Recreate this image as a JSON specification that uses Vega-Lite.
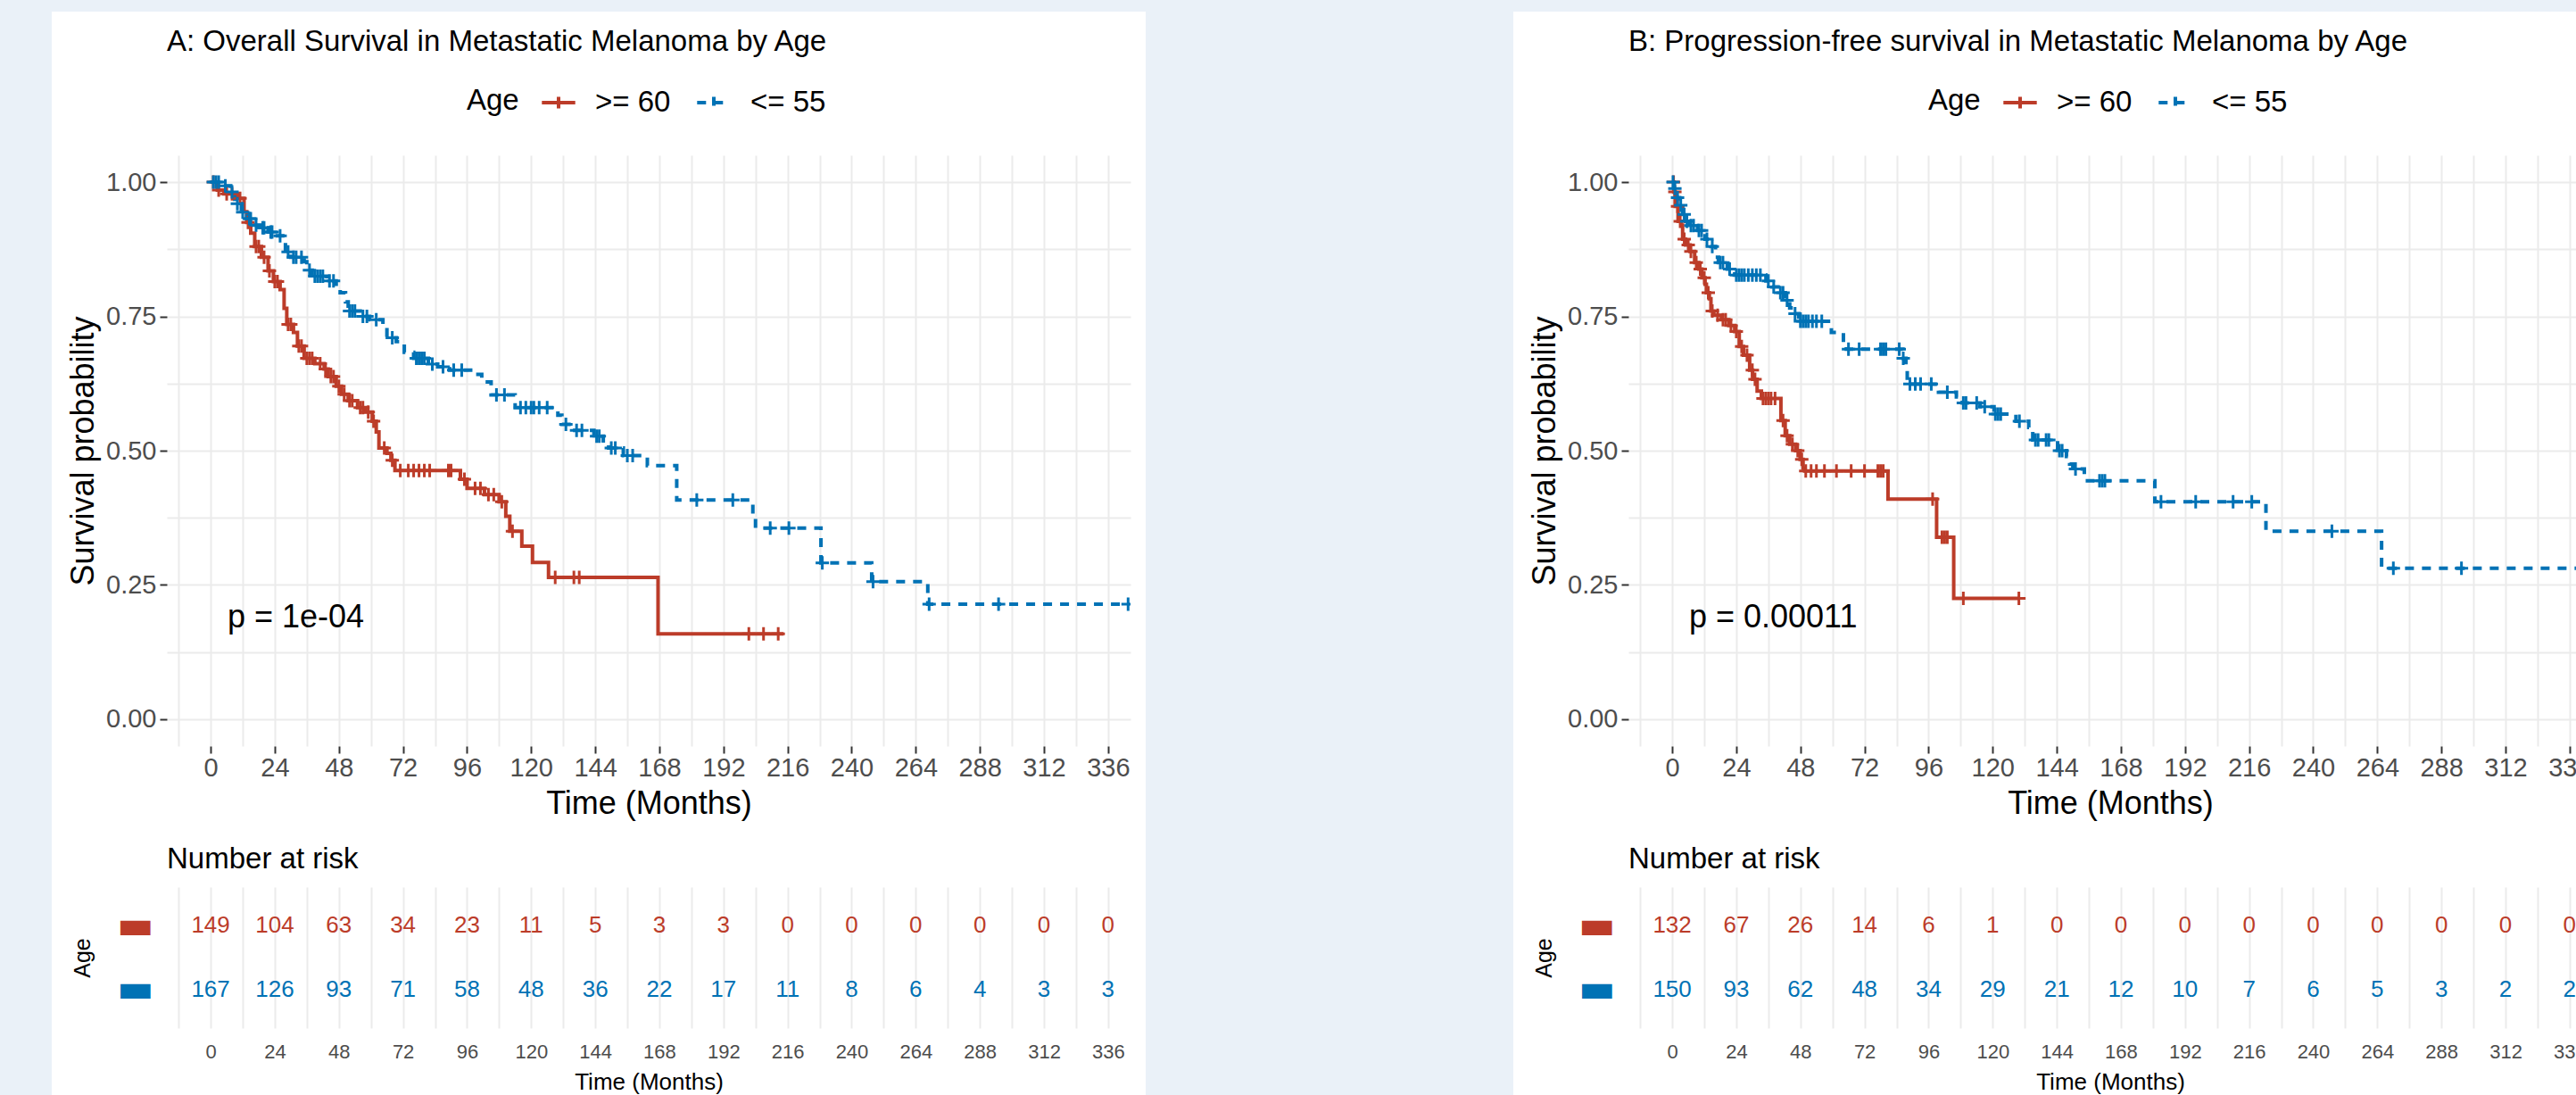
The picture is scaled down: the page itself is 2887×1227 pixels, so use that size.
{
  "$schema": "https://vega.github.io/schema/vega-lite/v6.json",
  "background": "white",
  "padding": 0,
  "config": {
    "font": "Liberation Sans",
    "view": {"stroke": null},
    "axis": {"domain": false, "gridColor": "#ebebeb", "gridWidth": 2, "labelColor": "#4d4d4d", "titleColor": "#000000", "titleFontWeight": "normal", "labelFont": "Liberation Sans", "titleFont": "Liberation Sans", "labelOverlap": false, "labelFlush": false},
    "title": {"anchor": "start", "frame": "group", "fontWeight": "normal", "color": "#000000", "font": "Liberation Sans"},
    "legend": {"labelFont": "Liberation Sans", "titleFont": "Liberation Sans", "titleFontWeight": "normal", "labelColor": "#000000", "titleColor": "#000000"}
  },
  "datasets": {
    "curvesA": [
      {"g":">= 60","t":0,"s":1},{"g":">= 60","t":2.5,"s":0.985},{"g":">= 60","t":5,"s":0.978},{"g":">= 60","t":10,"s":0.97},{"g":">= 60","t":12.5,"s":0.945},{"g":">= 60","t":13.5,"s":0.925},{"g":">= 60","t":15,"s":0.905},{"g":">= 60","t":16.5,"s":0.88},{"g":">= 60","t":19,"s":0.86},{"g":">= 60","t":21.5,"s":0.835},{"g":">= 60","t":23.5,"s":0.815},{"g":">= 60","t":26,"s":0.8},{"g":">= 60","t":27.5,"s":0.765},{"g":">= 60","t":28.5,"s":0.735},{"g":">= 60","t":31,"s":0.72},{"g":">= 60","t":32.5,"s":0.695},{"g":">= 60","t":35,"s":0.672},{"g":">= 60","t":39,"s":0.662},{"g":">= 60","t":42.5,"s":0.652},{"g":">= 60","t":44,"s":0.638},{"g":">= 60","t":47,"s":0.62},{"g":">= 60","t":49,"s":0.605},{"g":">= 60","t":51.5,"s":0.593},{"g":">= 60","t":55,"s":0.58},{"g":">= 60","t":58,"s":0.572},{"g":">= 60","t":60.5,"s":0.555},{"g":">= 60","t":62,"s":0.535},{"g":">= 60","t":63,"s":0.505},{"g":">= 60","t":66,"s":0.495},{"g":">= 60","t":67.5,"s":0.482},{"g":">= 60","t":69,"s":0.463},{"g":">= 60","t":93.5,"s":0.447},{"g":">= 60","t":96,"s":0.43},{"g":">= 60","t":102.5,"s":0.418},{"g":">= 60","t":108,"s":0.405},{"g":">= 60","t":110.5,"s":0.378},{"g":">= 60","t":112,"s":0.35},{"g":">= 60","t":116.5,"s":0.322},{"g":">= 60","t":120.5,"s":0.292},{"g":">= 60","t":126.5,"s":0.264},{"g":">= 60","t":167.5,"s":0.159},{"g":">= 60","t":214.5,"s":0.159},
      {"g":"<= 55","t":0,"s":1},{"g":"<= 55","t":4.5,"s":0.993},{"g":"<= 55","t":7.5,"s":0.982},{"g":"<= 55","t":9,"s":0.96},{"g":"<= 55","t":11.5,"s":0.944},{"g":"<= 55","t":13.5,"s":0.932},{"g":"<= 55","t":16,"s":0.92},{"g":"<= 55","t":18.5,"s":0.915},{"g":"<= 55","t":21.5,"s":0.907},{"g":"<= 55","t":25,"s":0.9},{"g":"<= 55","t":27,"s":0.888},{"g":"<= 55","t":28,"s":0.87},{"g":"<= 55","t":30,"s":0.86},{"g":"<= 55","t":35,"s":0.852},{"g":"<= 55","t":36,"s":0.836},{"g":"<= 55","t":38,"s":0.825},{"g":"<= 55","t":43.5,"s":0.816},{"g":"<= 55","t":47,"s":0.805},{"g":"<= 55","t":48.5,"s":0.794},{"g":"<= 55","t":50.5,"s":0.777},{"g":"<= 55","t":51.5,"s":0.76},{"g":"<= 55","t":56,"s":0.75},{"g":"<= 55","t":59.5,"s":0.744},{"g":"<= 55","t":64.5,"s":0.733},{"g":"<= 55","t":66,"s":0.71},{"g":"<= 55","t":69.5,"s":0.703},{"g":"<= 55","t":72.5,"s":0.683},{"g":"<= 55","t":76,"s":0.672},{"g":"<= 55","t":81.5,"s":0.661},{"g":"<= 55","t":85,"s":0.656},{"g":"<= 55","t":89.5,"s":0.65},{"g":"<= 55","t":98.5,"s":0.642},{"g":"<= 55","t":101.5,"s":0.628},{"g":"<= 55","t":105,"s":0.604},{"g":"<= 55","t":114,"s":0.58},{"g":"<= 55","t":130,"s":0.566},{"g":"<= 55","t":131.5,"s":0.549},{"g":"<= 55","t":135,"s":0.538},{"g":"<= 55","t":143.5,"s":0.527},{"g":"<= 55","t":147,"s":0.513},{"g":"<= 55","t":149,"s":0.505},{"g":"<= 55","t":154.5,"s":0.491},{"g":"<= 55","t":163.5,"s":0.472},{"g":"<= 55","t":174.5,"s":0.408},{"g":"<= 55","t":203,"s":0.378},{"g":"<= 55","t":204,"s":0.356},{"g":"<= 55","t":228.5,"s":0.291},{"g":"<= 55","t":247.5,"s":0.256},{"g":"<= 55","t":268.5,"s":0.214},{"g":"<= 55","t":344,"s":0.214}
    ],
    "censA": [
      {"g":">= 60","t":1,"s":1},{"g":">= 60","t":3,"s":0.985},{"g":">= 60","t":6,"s":0.978},{"g":">= 60","t":8,"s":0.978},{"g":">= 60","t":11,"s":0.97},{"g":">= 60","t":14,"s":0.925},{"g":">= 60","t":17,"s":0.88},{"g":">= 60","t":18,"s":0.88},{"g":">= 60","t":20,"s":0.86},{"g":">= 60","t":22,"s":0.835},{"g":">= 60","t":24,"s":0.815},{"g":">= 60","t":25,"s":0.815},{"g":">= 60","t":29,"s":0.735},{"g":">= 60","t":30,"s":0.735},{"g":">= 60","t":33,"s":0.695},{"g":">= 60","t":34,"s":0.695},{"g":">= 60","t":36,"s":0.672},{"g":">= 60","t":37,"s":0.672},{"g":">= 60","t":38,"s":0.672},{"g":">= 60","t":41,"s":0.662},{"g":">= 60","t":43,"s":0.652},{"g":">= 60","t":45,"s":0.638},{"g":">= 60","t":46,"s":0.638},{"g":">= 60","t":48,"s":0.62},{"g":">= 60","t":50,"s":0.605},{"g":">= 60","t":52,"s":0.593},{"g":">= 60","t":53,"s":0.593},{"g":">= 60","t":56,"s":0.58},{"g":">= 60","t":57,"s":0.58},{"g":">= 60","t":59,"s":0.572},{"g":">= 60","t":61,"s":0.555},{"g":">= 60","t":65,"s":0.505},{"g":">= 60","t":68,"s":0.482},{"g":">= 60","t":71,"s":0.463},{"g":">= 60","t":74,"s":0.463},{"g":">= 60","t":76,"s":0.463},{"g":">= 60","t":78,"s":0.463},{"g":">= 60","t":80,"s":0.463},{"g":">= 60","t":82,"s":0.463},{"g":">= 60","t":89,"s":0.463},{"g":">= 60","t":90,"s":0.463},{"g":">= 60","t":95,"s":0.447},{"g":">= 60","t":99,"s":0.43},{"g":">= 60","t":101,"s":0.43},{"g":">= 60","t":104,"s":0.418},{"g":">= 60","t":106,"s":0.418},{"g":">= 60","t":109,"s":0.405},{"g":">= 60","t":113,"s":0.35},{"g":">= 60","t":129,"s":0.264},{"g":">= 60","t":136,"s":0.264},{"g":">= 60","t":138,"s":0.264},{"g":">= 60","t":201.5,"s":0.159},{"g":">= 60","t":207,"s":0.159},{"g":">= 60","t":212.5,"s":0.159},
      {"g":"<= 55","t":1,"s":1},{"g":"<= 55","t":2,"s":1},{"g":"<= 55","t":3,"s":1},{"g":"<= 55","t":5.5,"s":0.993},{"g":"<= 55","t":8,"s":0.982},{"g":"<= 55","t":10,"s":0.96},{"g":"<= 55","t":12,"s":0.944},{"g":"<= 55","t":14.5,"s":0.932},{"g":"<= 55","t":15,"s":0.932},{"g":"<= 55","t":17,"s":0.92},{"g":"<= 55","t":19.5,"s":0.915},{"g":"<= 55","t":20,"s":0.915},{"g":"<= 55","t":22.5,"s":0.907},{"g":"<= 55","t":23,"s":0.907},{"g":"<= 55","t":26,"s":0.9},{"g":"<= 55","t":29,"s":0.87},{"g":"<= 55","t":31,"s":0.86},{"g":"<= 55","t":32,"s":0.86},{"g":"<= 55","t":34,"s":0.86},{"g":"<= 55","t":37,"s":0.836},{"g":"<= 55","t":39,"s":0.825},{"g":"<= 55","t":40,"s":0.825},{"g":"<= 55","t":41,"s":0.825},{"g":"<= 55","t":42,"s":0.825},{"g":"<= 55","t":44.5,"s":0.816},{"g":"<= 55","t":46,"s":0.816},{"g":"<= 55","t":52,"s":0.76},{"g":"<= 55","t":53,"s":0.76},{"g":"<= 55","t":54,"s":0.76},{"g":"<= 55","t":57,"s":0.75},{"g":"<= 55","t":58.5,"s":0.75},{"g":"<= 55","t":62,"s":0.744},{"g":"<= 55","t":68,"s":0.71},{"g":"<= 55","t":77,"s":0.672},{"g":"<= 55","t":78,"s":0.672},{"g":"<= 55","t":79,"s":0.672},{"g":"<= 55","t":80,"s":0.672},{"g":"<= 55","t":83,"s":0.661},{"g":"<= 55","t":87,"s":0.656},{"g":"<= 55","t":91,"s":0.65},{"g":"<= 55","t":94,"s":0.65},{"g":"<= 55","t":107,"s":0.604},{"g":"<= 55","t":110,"s":0.604},{"g":"<= 55","t":116,"s":0.58},{"g":"<= 55","t":118,"s":0.58},{"g":"<= 55","t":120,"s":0.58},{"g":"<= 55","t":121,"s":0.58},{"g":"<= 55","t":123,"s":0.58},{"g":"<= 55","t":126,"s":0.58},{"g":"<= 55","t":133,"s":0.549},{"g":"<= 55","t":137,"s":0.538},{"g":"<= 55","t":139,"s":0.538},{"g":"<= 55","t":144.5,"s":0.527},{"g":"<= 55","t":145.5,"s":0.527},{"g":"<= 55","t":150,"s":0.505},{"g":"<= 55","t":151.5,"s":0.505},{"g":"<= 55","t":156,"s":0.491},{"g":"<= 55","t":158,"s":0.491},{"g":"<= 55","t":182,"s":0.408},{"g":"<= 55","t":195.5,"s":0.408},{"g":"<= 55","t":209.5,"s":0.356},{"g":"<= 55","t":216.5,"s":0.356},{"g":"<= 55","t":229,"s":0.291},{"g":"<= 55","t":248,"s":0.256},{"g":"<= 55","t":269,"s":0.214},{"g":"<= 55","t":295,"s":0.214},{"g":"<= 55","t":343.5,"s":0.214}
    ],
    "riskA": [
      {"g":">= 60","t":0,"n":149},{"g":">= 60","t":24,"n":104},{"g":">= 60","t":48,"n":63},{"g":">= 60","t":72,"n":34},{"g":">= 60","t":96,"n":23},{"g":">= 60","t":120,"n":11},{"g":">= 60","t":144,"n":5},{"g":">= 60","t":168,"n":3},{"g":">= 60","t":192,"n":3},{"g":">= 60","t":216,"n":0},{"g":">= 60","t":240,"n":0},{"g":">= 60","t":264,"n":0},{"g":">= 60","t":288,"n":0},{"g":">= 60","t":312,"n":0},{"g":">= 60","t":336,"n":0},
      {"g":"<= 55","t":0,"n":167},{"g":"<= 55","t":24,"n":126},{"g":"<= 55","t":48,"n":93},{"g":"<= 55","t":72,"n":71},{"g":"<= 55","t":96,"n":58},{"g":"<= 55","t":120,"n":48},{"g":"<= 55","t":144,"n":36},{"g":"<= 55","t":168,"n":22},{"g":"<= 55","t":192,"n":17},{"g":"<= 55","t":216,"n":11},{"g":"<= 55","t":240,"n":8},{"g":"<= 55","t":264,"n":6},{"g":"<= 55","t":288,"n":4},{"g":"<= 55","t":312,"n":3},{"g":"<= 55","t":336,"n":3}
    ],
    "curvesB": [
      {"g":">= 60","t":0,"s":1},{"g":">= 60","t":0.6,"s":0.982},{"g":">= 60","t":1.1,"s":0.955},{"g":">= 60","t":2.2,"s":0.927},{"g":">= 60","t":3.3,"s":0.92},{"g":">= 60","t":3.9,"s":0.894},{"g":">= 60","t":5,"s":0.883},{"g":">= 60","t":6.7,"s":0.871},{"g":">= 60","t":8.4,"s":0.85},{"g":">= 60","t":10,"s":0.838},{"g":">= 60","t":11.1,"s":0.822},{"g":">= 60","t":12.3,"s":0.81},{"g":">= 60","t":12.8,"s":0.794},{"g":">= 60","t":13.9,"s":0.783},{"g":">= 60","t":14.5,"s":0.76},{"g":">= 60","t":15.6,"s":0.752},{"g":">= 60","t":18.4,"s":0.744},{"g":">= 60","t":21.2,"s":0.733},{"g":">= 60","t":23.4,"s":0.722},{"g":">= 60","t":25.1,"s":0.694},{"g":">= 60","t":26.7,"s":0.678},{"g":">= 60","t":29,"s":0.65},{"g":">= 60","t":30.1,"s":0.633},{"g":">= 60","t":31.8,"s":0.611},{"g":">= 60","t":33.4,"s":0.597},{"g":">= 60","t":40.7,"s":0.556},{"g":">= 60","t":42.3,"s":0.528},{"g":">= 60","t":44,"s":0.512},{"g":">= 60","t":46.2,"s":0.5},{"g":">= 60","t":47.9,"s":0.484},{"g":">= 60","t":49,"s":0.467},{"g":">= 60","t":49.6,"s":0.462},{"g":">= 60","t":80.8,"s":0.41},{"g":">= 60","t":99,"s":0.339},{"g":">= 60","t":105.4,"s":0.225},{"g":">= 60","t":129.8,"s":0.225},
      {"g":"<= 55","t":0,"s":1},{"g":"<= 55","t":0.6,"s":0.988},{"g":"<= 55","t":1.7,"s":0.971},{"g":"<= 55","t":2.8,"s":0.957},{"g":"<= 55","t":3.9,"s":0.94},{"g":"<= 55","t":5,"s":0.927},{"g":"<= 55","t":6.1,"s":0.919},{"g":"<= 55","t":9.5,"s":0.91},{"g":"<= 55","t":12.3,"s":0.894},{"g":"<= 55","t":14.5,"s":0.88},{"g":"<= 55","t":16.2,"s":0.86},{"g":"<= 55","t":17.3,"s":0.85},{"g":"<= 55","t":20.6,"s":0.838},{"g":"<= 55","t":23.4,"s":0.827},{"g":"<= 55","t":35.1,"s":0.816},{"g":"<= 55","t":37.3,"s":0.805},{"g":"<= 55","t":39.6,"s":0.794},{"g":"<= 55","t":42.3,"s":0.78},{"g":"<= 55","t":44,"s":0.766},{"g":"<= 55","t":45.7,"s":0.755},{"g":"<= 55","t":47.4,"s":0.741},{"g":"<= 55","t":59.6,"s":0.72},{"g":"<= 55","t":64.1,"s":0.7},{"g":"<= 55","t":65.2,"s":0.689},{"g":"<= 55","t":86.4,"s":0.672},{"g":"<= 55","t":87.5,"s":0.65},{"g":"<= 55","t":88,"s":0.624},{"g":"<= 55","t":99.7,"s":0.609},{"g":"<= 55","t":106.4,"s":0.6},{"g":"<= 55","t":108.6,"s":0.589},{"g":"<= 55","t":115.3,"s":0.582},{"g":"<= 55","t":120.5,"s":0.568},{"g":"<= 55","t":128.7,"s":0.555},{"g":"<= 55","t":133.5,"s":0.543},{"g":"<= 55","t":135,"s":0.52},{"g":"<= 55","t":144.3,"s":0.5},{"g":"<= 55","t":147.6,"s":0.489},{"g":"<= 55","t":148.8,"s":0.475},{"g":"<= 55","t":150,"s":0.466},{"g":"<= 55","t":154.3,"s":0.444},{"g":"<= 55","t":180.7,"s":0.405},{"g":"<= 55","t":222.3,"s":0.35},{"g":"<= 55","t":265.6,"s":0.281},{"g":"<= 55","t":339.5,"s":0.14},{"g":"<= 55","t":346,"s":0.14}
    ],
    "censB": [
      {"g":">= 60","t":0.5,"s":1},{"g":">= 60","t":1,"s":0.982},{"g":">= 60","t":2,"s":0.955},{"g":">= 60","t":3,"s":0.927},{"g":">= 60","t":4.5,"s":0.894},{"g":">= 60","t":6,"s":0.883},{"g":">= 60","t":7,"s":0.871},{"g":">= 60","t":9,"s":0.85},{"g":">= 60","t":10.5,"s":0.838},{"g":">= 60","t":12,"s":0.822},{"g":">= 60","t":13.5,"s":0.794},{"g":">= 60","t":15,"s":0.76},{"g":">= 60","t":17,"s":0.752},{"g":">= 60","t":19,"s":0.744},{"g":">= 60","t":20,"s":0.744},{"g":">= 60","t":22,"s":0.733},{"g":">= 60","t":24,"s":0.722},{"g":">= 60","t":26,"s":0.694},{"g":">= 60","t":28,"s":0.678},{"g":">= 60","t":30,"s":0.65},{"g":">= 60","t":31,"s":0.633},{"g":">= 60","t":34,"s":0.597},{"g":">= 60","t":35,"s":0.597},{"g":">= 60","t":36,"s":0.597},{"g":">= 60","t":37,"s":0.597},{"g":">= 60","t":38.5,"s":0.597},{"g":">= 60","t":41.5,"s":0.556},{"g":">= 60","t":43,"s":0.528},{"g":">= 60","t":45,"s":0.512},{"g":">= 60","t":47,"s":0.5},{"g":">= 60","t":48.5,"s":0.484},{"g":">= 60","t":50,"s":0.462},{"g":">= 60","t":52,"s":0.462},{"g":">= 60","t":54,"s":0.462},{"g":">= 60","t":57,"s":0.462},{"g":">= 60","t":61.5,"s":0.462},{"g":">= 60","t":67,"s":0.462},{"g":">= 60","t":72,"s":0.462},{"g":">= 60","t":77,"s":0.462},{"g":">= 60","t":78,"s":0.462},{"g":">= 60","t":79,"s":0.462},{"g":">= 60","t":97.5,"s":0.41},{"g":">= 60","t":101,"s":0.339},{"g":">= 60","t":102,"s":0.339},{"g":">= 60","t":103,"s":0.339},{"g":">= 60","t":109,"s":0.225},{"g":">= 60","t":129.8,"s":0.225},
      {"g":"<= 55","t":0.3,"s":1},{"g":"<= 55","t":1,"s":0.988},{"g":"<= 55","t":2,"s":0.971},{"g":"<= 55","t":3.2,"s":0.957},{"g":"<= 55","t":4.5,"s":0.94},{"g":"<= 55","t":5.5,"s":0.927},{"g":"<= 55","t":7,"s":0.919},{"g":"<= 55","t":8,"s":0.919},{"g":"<= 55","t":10,"s":0.91},{"g":"<= 55","t":11,"s":0.91},{"g":"<= 55","t":13,"s":0.894},{"g":"<= 55","t":15,"s":0.88},{"g":"<= 55","t":18,"s":0.85},{"g":"<= 55","t":19,"s":0.85},{"g":"<= 55","t":21.5,"s":0.838},{"g":"<= 55","t":24,"s":0.827},{"g":"<= 55","t":25,"s":0.827},{"g":"<= 55","t":26,"s":0.827},{"g":"<= 55","t":27,"s":0.827},{"g":"<= 55","t":28.5,"s":0.827},{"g":"<= 55","t":30,"s":0.827},{"g":"<= 55","t":31.5,"s":0.827},{"g":"<= 55","t":33,"s":0.827},{"g":"<= 55","t":36,"s":0.816},{"g":"<= 55","t":38,"s":0.805},{"g":"<= 55","t":40.5,"s":0.794},{"g":"<= 55","t":41.5,"s":0.794},{"g":"<= 55","t":43,"s":0.78},{"g":"<= 55","t":46,"s":0.755},{"g":"<= 55","t":48,"s":0.741},{"g":"<= 55","t":49,"s":0.741},{"g":"<= 55","t":50,"s":0.741},{"g":"<= 55","t":51,"s":0.741},{"g":"<= 55","t":52.5,"s":0.741},{"g":"<= 55","t":54,"s":0.741},{"g":"<= 55","t":56,"s":0.741},{"g":"<= 55","t":66,"s":0.689},{"g":"<= 55","t":70,"s":0.689},{"g":"<= 55","t":78,"s":0.689},{"g":"<= 55","t":79,"s":0.689},{"g":"<= 55","t":80,"s":0.689},{"g":"<= 55","t":85,"s":0.689},{"g":"<= 55","t":86.5,"s":0.672},{"g":"<= 55","t":89,"s":0.624},{"g":"<= 55","t":91,"s":0.624},{"g":"<= 55","t":93,"s":0.624},{"g":"<= 55","t":97,"s":0.624},{"g":"<= 55","t":103,"s":0.609},{"g":"<= 55","t":109,"s":0.589},{"g":"<= 55","t":110,"s":0.589},{"g":"<= 55","t":114,"s":0.589},{"g":"<= 55","t":117,"s":0.582},{"g":"<= 55","t":121,"s":0.568},{"g":"<= 55","t":122,"s":0.568},{"g":"<= 55","t":123,"s":0.568},{"g":"<= 55","t":130,"s":0.555},{"g":"<= 55","t":136,"s":0.52},{"g":"<= 55","t":137,"s":0.52},{"g":"<= 55","t":140,"s":0.52},{"g":"<= 55","t":141,"s":0.52},{"g":"<= 55","t":145,"s":0.5},{"g":"<= 55","t":146,"s":0.5},{"g":"<= 55","t":151,"s":0.466},{"g":"<= 55","t":160,"s":0.444},{"g":"<= 55","t":161,"s":0.444},{"g":"<= 55","t":162,"s":0.444},{"g":"<= 55","t":183,"s":0.405},{"g":"<= 55","t":196,"s":0.405},{"g":"<= 55","t":210,"s":0.405},{"g":"<= 55","t":217,"s":0.405},{"g":"<= 55","t":247,"s":0.35},{"g":"<= 55","t":270,"s":0.281},{"g":"<= 55","t":295.5,"s":0.281}
    ],
    "riskB": [
      {"g":">= 60","t":0,"n":132},{"g":">= 60","t":24,"n":67},{"g":">= 60","t":48,"n":26},{"g":">= 60","t":72,"n":14},{"g":">= 60","t":96,"n":6},{"g":">= 60","t":120,"n":1},{"g":">= 60","t":144,"n":0},{"g":">= 60","t":168,"n":0},{"g":">= 60","t":192,"n":0},{"g":">= 60","t":216,"n":0},{"g":">= 60","t":240,"n":0},{"g":">= 60","t":264,"n":0},{"g":">= 60","t":288,"n":0},{"g":">= 60","t":312,"n":0},{"g":">= 60","t":336,"n":0},
      {"g":"<= 55","t":0,"n":150},{"g":"<= 55","t":24,"n":93},{"g":"<= 55","t":48,"n":62},{"g":"<= 55","t":72,"n":48},{"g":"<= 55","t":96,"n":34},{"g":"<= 55","t":120,"n":29},{"g":"<= 55","t":144,"n":21},{"g":"<= 55","t":168,"n":12},{"g":"<= 55","t":192,"n":10},{"g":"<= 55","t":216,"n":7},{"g":"<= 55","t":240,"n":6},{"g":"<= 55","t":264,"n":5},{"g":"<= 55","t":288,"n":3},{"g":"<= 55","t":312,"n":2},{"g":"<= 55","t":336,"n":2}
    ]
  },
  "spacing": 0,
  "resolve": {"scale": {"color": "independent", "strokeDash": "independent"}, "legend": {"color": "independent", "strokeDash": "independent"}},
  "vconcat": [
    {"width": 2887, "height": 13, "data": {"values": []}, "mark": "rect", "view": {"fill": "#eaf1f8", "stroke": null}},
    {
      "spacing": 17,
      "resolve": {"scale": {"color": "independent", "strokeDash": "independent"}, "legend": {"color": "independent", "strokeDash": "independent"}},
      "hconcat": [
        {"width": 58, "height": 1214, "data": {"values": []}, "mark": "rect", "view": {"fill": "#eaf1f8", "stroke": null}},
        {
          "spacing": 0,
          "resolve": {"scale": {"color": "independent", "strokeDash": "independent"}, "legend": {"color": "independent", "strokeDash": "independent"}},
          "vconcat": [
            {"width": 1080, "height": 18, "data": {"values": []}, "mark": "rect"},
            {
              "spacing": 29,
              "resolve": {"scale": {"color": "independent", "strokeDash": "independent"}, "legend": {"color": "independent", "strokeDash": "independent"}},
              "vconcat": [
                {
                  "width": 1080, "height": 662,
                  "title": {"text": "A: Overall Survival in Metastatic Melanoma by Age", "fontSize": 33, "offset": 30},
                  "encoding": {
                    "x": {"field": "t", "type": "quantitative", "scale": {"domain": [-16.4, 344.4], "nice": false, "zero": false},
                      "axis": {"values": [-12,0,12,24,36,48,60,72,84,96,108,120,132,144,156,168,180,192,204,216,228,240,252,264,276,288,300,312,324,336],
                        "labelExpr": "datum.value % 24 == 0 ? datum.label : ''",
                        "tickColor": {"condition": {"test": "datum.value % 24 == 0", "value": "#333333"}, "value": "transparent"},
                        "tickSize": 8, "tickWidth": 2, "labelFontSize": 29, "labelPadding": 2, "title": "Time (Months)", "titleFontSize": 36, "titlePadding": 8}},
                    "y": {"field": "s", "type": "quantitative", "scale": {"domain": [-0.05, 1.05], "nice": false, "zero": false},
                      "axis": {"values": [0,0.125,0.25,0.375,0.5,0.625,0.75,0.875,1],
                        "labelExpr": "datum.value % 0.25 == 0 ? format(datum.value, '.2f') : ''",
                        "tickColor": {"condition": {"test": "datum.value % 0.25 == 0", "value": "#333333"}, "value": "transparent"},
                        "tickSize": 8, "tickWidth": 2, "labelFontSize": 29, "labelPadding": 4, "title": "Survival probability", "titleFontSize": 36, "titlePadding": 6}}
                  },
                  "layer": [
                    {
                      "data": {"name": "curvesA"},
                      "mark": {"type": "line", "interpolate": "step-after", "strokeWidth": 4, "clip": true},
                      "encoding": {
                        "color": {"field": "g", "type": "nominal", "scale": {"domain": [">= 60", "<= 55"], "range": ["#BC3C29", "#0072B5"]},
                          "legend": {"orient": "none", "legendX": 336, "legendY": -80, "direction": "horizontal", "titleOrient": "left", "title": "Age", "titleFontSize": 33, "labelFontSize": 33, "symbolType": "M-1,0H1M0,-0.35V0.35", "symbolSize": 1400, "symbolStrokeWidth": 4, "symbolFillColor": "transparent", "columnPadding": 21, "labelOffset": 20, "titlePadding": 23}},
                        "strokeDash": {"field": "g", "type": "nominal", "scale": {"domain": [">= 60", "<= 55"], "range": [[1, 0], [10, 9]]},
                          "legend": {"orient": "none", "legendX": 336, "legendY": -80, "direction": "horizontal", "titleOrient": "left", "title": "Age", "titleFontSize": 33, "labelFontSize": 33, "symbolType": "M-1,0H1M0,-0.35V0.35", "symbolSize": 1400, "symbolStrokeWidth": 4, "symbolFillColor": "transparent", "columnPadding": 21, "labelOffset": 20, "titlePadding": 23}}
                      }
                    },
                    {
                      "data": {"name": "censA"},
                      "mark": {"type": "point", "shape": "M-1,0H1M0,-1V1", "filled": false, "size": 225, "strokeWidth": 3, "opacity": 1, "clip": true},
                      "encoding": {
                        "color": {"field": "g", "type": "nominal",
                          "legend": {"orient": "none", "legendX": 336, "legendY": -80, "direction": "horizontal", "titleOrient": "left", "title": "Age", "titleFontSize": 33, "labelFontSize": 33, "symbolType": "M-1,0H1M0,-0.35V0.35", "symbolSize": 1400, "symbolStrokeWidth": 4, "symbolFillColor": "transparent", "columnPadding": 21, "labelOffset": 20, "titlePadding": 23}}
                      }
                    },
                    {
                      "data": {"values": [{"t": 6.3, "s": 0.19, "label": "p = 1e-04"}]},
                      "mark": {"type": "text", "align": "left", "baseline": "middle", "fontSize": 36, "color": "#000000"},
                      "encoding": {"text": {"field": "label"}}
                    }
                  ]
                },
                {
                  "width": 1080, "height": 158,
                  "title": {"text": "Number at risk", "fontSize": 33, "offset": 14},
                  "data": {"name": "riskA"},
                  "mark": {"type": "text", "fontSize": 26, "baseline": "middle"},
                  "encoding": {
                    "x": {"field": "t", "type": "quantitative", "scale": {"domain": [-16.4, 344.4], "nice": false, "zero": false},
                      "axis": {"values": [-12,0,12,24,36,48,60,72,84,96,108,120,132,144,156,168,180,192,204,216,228,240,252,264,276,288,300,312,324,336],
                        "labelExpr": "datum.value % 24 == 0 ? datum.label : ''",
                        "ticks": false, "labelFontSize": 22, "labelPadding": 16, "title": "Time (Months)", "titleFontSize": 26, "titlePadding": 10}},
                    "y": {"field": "g", "type": "nominal", "scale": {"domain": [">= 60", "<= 55"], "padding": 0.6},
                      "axis": {"labelExpr": "'▬'", "labelFont": "DejaVu Sans", "labelFontSize": 44,
                        "labelColor": {"condition": {"test": "datum.value == '>= 60'", "value": "#BC3C29"}, "value": "#0072B5"},
                        "ticks": false, "labelPadding": 15, "title": "Age", "titleFontSize": 25, "titlePadding": 25}},
                    "text": {"field": "n", "type": "quantitative"},
                    "color": {"field": "g", "type": "nominal", "scale": {"domain": [">= 60", "<= 55"], "range": ["#BC3C29", "#0072B5"]}, "legend": null}
                  }
                }
              ]
            }
          ]
        },
        {"width": 412, "height": 1214, "data": {"values": []}, "mark": "rect", "view": {"fill": "#eaf1f8", "stroke": null}},
        {
          "spacing": 0,
          "resolve": {"scale": {"color": "independent", "strokeDash": "independent"}, "legend": {"color": "independent", "strokeDash": "independent"}},
          "vconcat": [
            {"width": 1080, "height": 18, "data": {"values": []}, "mark": "rect"},
            {
              "spacing": 29,
              "resolve": {"scale": {"color": "independent", "strokeDash": "independent"}, "legend": {"color": "independent", "strokeDash": "independent"}},
              "vconcat": [
                {
                  "width": 1080, "height": 662,
                  "title": {"text": "B: Progression-free survival in Metastatic Melanoma by Age", "fontSize": 33, "offset": 30},
                  "encoding": {
                    "x": {"field": "t", "type": "quantitative", "scale": {"domain": [-16.4, 344.4], "nice": false, "zero": false},
                      "axis": {"values": [-12,0,12,24,36,48,60,72,84,96,108,120,132,144,156,168,180,192,204,216,228,240,252,264,276,288,300,312,324,336],
                        "labelExpr": "datum.value % 24 == 0 ? datum.label : ''",
                        "tickColor": {"condition": {"test": "datum.value % 24 == 0", "value": "#333333"}, "value": "transparent"},
                        "tickSize": 8, "tickWidth": 2, "labelFontSize": 29, "labelPadding": 2, "title": "Time (Months)", "titleFontSize": 36, "titlePadding": 8}},
                    "y": {"field": "s", "type": "quantitative", "scale": {"domain": [-0.05, 1.05], "nice": false, "zero": false},
                      "axis": {"values": [0,0.125,0.25,0.375,0.5,0.625,0.75,0.875,1],
                        "labelExpr": "datum.value % 0.25 == 0 ? format(datum.value, '.2f') : ''",
                        "tickColor": {"condition": {"test": "datum.value % 0.25 == 0", "value": "#333333"}, "value": "transparent"},
                        "tickSize": 8, "tickWidth": 2, "labelFontSize": 29, "labelPadding": 4, "title": "Survival probability", "titleFontSize": 36, "titlePadding": 6}}
                  },
                  "layer": [
                    {
                      "data": {"name": "curvesB"},
                      "mark": {"type": "line", "interpolate": "step-after", "strokeWidth": 4, "clip": true},
                      "encoding": {
                        "color": {"field": "g", "type": "nominal", "scale": {"domain": [">= 60", "<= 55"], "range": ["#BC3C29", "#0072B5"]},
                          "legend": {"orient": "none", "legendX": 336, "legendY": -80, "direction": "horizontal", "titleOrient": "left", "title": "Age", "titleFontSize": 33, "labelFontSize": 33, "symbolType": "M-1,0H1M0,-0.35V0.35", "symbolSize": 1400, "symbolStrokeWidth": 4, "symbolFillColor": "transparent", "columnPadding": 21, "labelOffset": 20, "titlePadding": 23}},
                        "strokeDash": {"field": "g", "type": "nominal", "scale": {"domain": [">= 60", "<= 55"], "range": [[1, 0], [10, 9]]},
                          "legend": {"orient": "none", "legendX": 336, "legendY": -80, "direction": "horizontal", "titleOrient": "left", "title": "Age", "titleFontSize": 33, "labelFontSize": 33, "symbolType": "M-1,0H1M0,-0.35V0.35", "symbolSize": 1400, "symbolStrokeWidth": 4, "symbolFillColor": "transparent", "columnPadding": 21, "labelOffset": 20, "titlePadding": 23}}
                      }
                    },
                    {
                      "data": {"name": "censB"},
                      "mark": {"type": "point", "shape": "M-1,0H1M0,-1V1", "filled": false, "size": 225, "strokeWidth": 3, "opacity": 1, "clip": true},
                      "encoding": {
                        "color": {"field": "g", "type": "nominal",
                          "legend": {"orient": "none", "legendX": 336, "legendY": -80, "direction": "horizontal", "titleOrient": "left", "title": "Age", "titleFontSize": 33, "labelFontSize": 33, "symbolType": "M-1,0H1M0,-0.35V0.35", "symbolSize": 1400, "symbolStrokeWidth": 4, "symbolFillColor": "transparent", "columnPadding": 21, "labelOffset": 20, "titlePadding": 23}}
                      }
                    },
                    {
                      "data": {"values": [{"t": 6.3, "s": 0.19, "label": "p = 0.00011"}]},
                      "mark": {"type": "text", "align": "left", "baseline": "middle", "fontSize": 36, "color": "#000000"},
                      "encoding": {"text": {"field": "label"}}
                    }
                  ]
                },
                {
                  "width": 1080, "height": 158,
                  "title": {"text": "Number at risk", "fontSize": 33, "offset": 14},
                  "data": {"name": "riskB"},
                  "mark": {"type": "text", "fontSize": 26, "baseline": "middle"},
                  "encoding": {
                    "x": {"field": "t", "type": "quantitative", "scale": {"domain": [-16.4, 344.4], "nice": false, "zero": false},
                      "axis": {"values": [-12,0,12,24,36,48,60,72,84,96,108,120,132,144,156,168,180,192,204,216,228,240,252,264,276,288,300,312,324,336],
                        "labelExpr": "datum.value % 24 == 0 ? datum.label : ''",
                        "ticks": false, "labelFontSize": 22, "labelPadding": 16, "title": "Time (Months)", "titleFontSize": 26, "titlePadding": 10}},
                    "y": {"field": "g", "type": "nominal", "scale": {"domain": [">= 60", "<= 55"], "padding": 0.6},
                      "axis": {"labelExpr": "'▬'", "labelFont": "DejaVu Sans", "labelFontSize": 44,
                        "labelColor": {"condition": {"test": "datum.value == '>= 60'", "value": "#BC3C29"}, "value": "#0072B5"},
                        "ticks": false, "labelPadding": 15, "title": "Age", "titleFontSize": 25, "titlePadding": 25}},
                    "text": {"field": "n", "type": "quantitative"},
                    "color": {"field": "g", "type": "nominal", "scale": {"domain": [">= 60", "<= 55"], "range": ["#BC3C29", "#0072B5"]}, "legend": null}
                  }
                }
              ]
            }
          ]
        }
      ]
    }
  ]
}
